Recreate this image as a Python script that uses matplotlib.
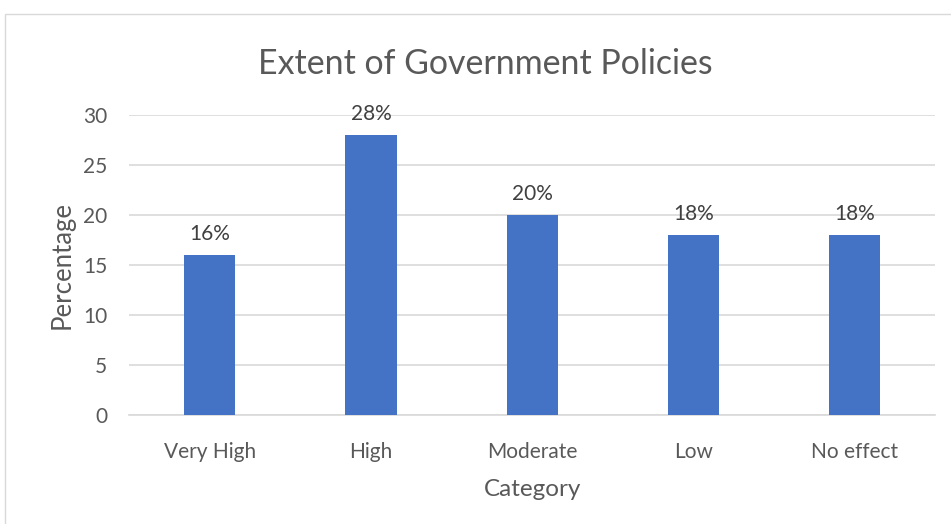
import matplotlib.pyplot as plt
from matplotlib.patches import Rectangle

categories = ["Very High", "High", "Moderate", "Low", "No effect"]
values = [16, 28, 20, 18, 18]
labels = ["16%", "28%", "20%", "18%", "18%"]

plt.rcParams["font.family"] = ["Lato", "DejaVu Sans"]
text_color = "#595959"

fig = plt.figure(figsize=(9.51, 5.24), dpi=100)
ax = fig.add_axes([0.136, 0.2074, 0.847, 0.573])

# chart border
fig.patches.append(Rectangle((0.005, -0.01), 1.0, 0.984, transform=fig.transFigure,
                             fill=False, edgecolor="#D9D9D9", linewidth=1))

x = range(len(categories))
bars = ax.bar(x, values, width=0.317, color="#4472C4", zorder=3)

for b, lab in zip(bars, labels):
    ax.annotate(lab, (b.get_x() + b.get_width() / 2, b.get_height()),
                xytext=(0, 8), textcoords="offset points", ha="center", va="bottom",
                fontsize=15, color="#404040")

ax.set_xlim(-0.5, len(categories) - 0.5)
ax.set_ylim(0, 30)
ax.set_yticks(range(0, 31, 5))
ax.set_xticks(list(x))
ax.set_xticklabels(categories)
ax.yaxis.grid(True, color="#D9D9D9", linewidth=1.2, zorder=0)
ax.set_axisbelow(True)
for s in ["top", "right", "left"]:
    ax.spines[s].set_visible(False)
ax.spines["bottom"].set_color("#D9D9D9")
ax.spines["bottom"].set_linewidth(1.2)
ax.tick_params(axis="both", length=0, labelsize=15, colors=text_color)
ax.tick_params(axis="x", pad=19.5)
ax.tick_params(axis="y", pad=16)

ax.set_xlabel("Category", fontsize=17.5, color=text_color, labelpad=12)
ax.set_ylabel("Percentage", fontsize=18.5, color=text_color, labelpad=6)
fig.text(0.51, 0.878, "Extent of Government Policies", ha="center", va="center",
         fontsize=24.4, color=text_color)

fig.savefig("out.png", dpi=100)
